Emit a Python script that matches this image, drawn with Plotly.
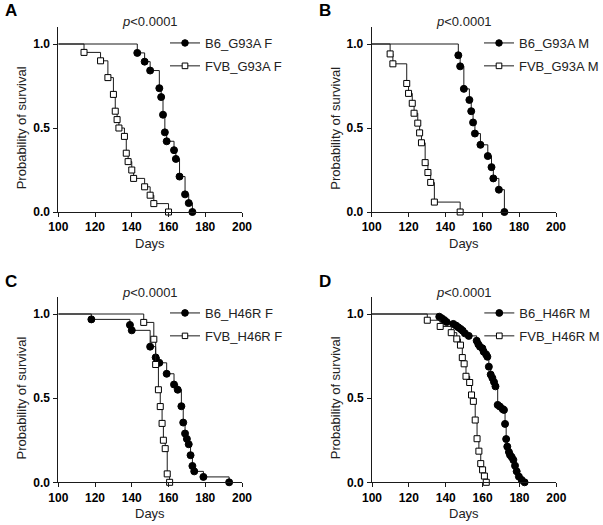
import plotly.graph_objects as go

# ---------------- data ----------------
# Panel A: G93A females
a_b6_days = [143, 147, 150, 155, 156, 157, 158, 159, 163, 164, 166, 169, 171, 173]
a_b6_surv = [0.947, 0.895, 0.842, 0.737, 0.684, 0.579, 0.474, 0.421, 0.368, 0.316, 0.211, 0.105, 0.053, 0.0]
a_fvb_days = [114, 123, 127, 130, 131, 132, 133, 136, 137, 138, 140, 141, 147, 150, 152, 160]
a_fvb_surv = [0.95, 0.90, 0.80, 0.70, 0.60, 0.55, 0.50, 0.45, 0.35, 0.30, 0.25, 0.20, 0.15, 0.10, 0.05, 0.0]

# Panel B: G93A males
b_b6_days = [147, 148, 150, 153, 154, 155, 156, 159, 163, 165, 166, 169, 172]
b_b6_surv = [0.933, 0.867, 0.733, 0.667, 0.600, 0.533, 0.467, 0.400, 0.333, 0.267, 0.200, 0.133, 0.0]
b_fvb_days = [110, 111.5, 119, 120, 122, 123, 125, 126, 127, 129, 130.5, 132, 134, 148]
b_fvb_surv = [0.941, 0.882, 0.765, 0.706, 0.647, 0.588, 0.529, 0.471, 0.412, 0.294, 0.235, 0.176, 0.059, 0.0]

# Panel C: H46R females
c_b6_days = [118, 139, 140, 150, 153, 155, 159, 163, 165, 167, 168, 169, 170, 171, 172, 173, 174, 179, 193]
c_b6_surv = [0.968, 0.935, 0.903, 0.806, 0.742, 0.710, 0.645, 0.581, 0.550, 0.452, 0.355, 0.290, 0.258, 0.226, 0.161, 0.097, 0.065, 0.032, 0.0]
c_fvb_days = [146.5, 152, 153, 154.5, 155.5, 156.5, 157.2, 158.2, 159.3, 160.6]
c_fvb_surv = [0.95, 0.85, 0.70, 0.55, 0.45, 0.35, 0.25, 0.20, 0.05, 0.0]

# Panel D: H46R males
d_b6_days = [136.5, 137.8, 139.2, 140.5, 144.1, 145.6, 146.8, 148.1, 149.2, 150.4, 152.5,
             156.8, 157.7, 158.6, 159.9, 160.6, 161.9, 162.6, 163.4, 164.4, 165.3, 166.2, 167.0,
             168.2, 169.4, 170.9, 171.6, 172.2, 172.8, 173.4, 174.3, 174.9, 175.8, 176.7,
             177.6, 178.5, 179.7, 181.2, 182.8]
d_b6_surv = [0.984, 0.975, 0.964, 0.952, 0.941, 0.931, 0.921, 0.911, 0.901, 0.885, 0.870,
             0.841, 0.820, 0.806, 0.796, 0.776, 0.760, 0.746, 0.687, 0.640, 0.620, 0.596, 0.570,
             0.460, 0.450, 0.435, 0.430, 0.347, 0.257, 0.212, 0.180, 0.162, 0.150, 0.133,
             0.099, 0.065, 0.034, 0.014, 0.0]
d_fvb_days = [130, 137, 143, 146, 148, 149, 150, 151, 153, 154, 155, 156, 157, 158, 159, 160, 161, 162]
d_fvb_surv = [0.963, 0.926, 0.889, 0.852, 0.815, 0.741, 0.704, 0.630, 0.593, 0.519, 0.481,
              0.370, 0.259, 0.185, 0.111, 0.074, 0.037, 0.0]

panel_letters = ["A", "B", "C", "D"]
b6_names = ["B6_G93A F", "B6_G93A M", "B6_H46R F", "B6_H46R M"]
fvb_names = ["FVB_G93A F", "FVB_G93A M", "FVB_H46R F", "FVB_H46R M"]
p_text = "<i>p</i>&lt;0.0001"
x_ticks = [100, 120, 140, 160, 180, 200]
y_ticks = [0.0, 0.5, 1.0]
y_ticklabels = ["0.0", "0.5", "1.0"]

panels = [
    (a_b6_days, a_b6_surv, a_fvb_days, a_fvb_surv),
    (b_b6_days, b_b6_surv, b_fvb_days, b_fvb_surv),
    (c_b6_days, c_b6_surv, c_fvb_days, c_fvb_surv),
    (d_b6_days, d_b6_surv, d_fvb_days, d_fvb_surv),
]

# ---------------- layout geometry ----------------
W, H = 603, 525
FONT = "Liberation Sans, Arial, Helvetica, sans-serif"
TXT = "#222222"
LINE = "#1a1a1a"

# pixel positions: (x of 100, x of 200, y of 0.0, y of 1.0)
geo = [
    (58.3, 242.0, 212.0, 44.0),
    (371.7, 556.0, 212.0, 44.0),
    (58.3, 242.0, 482.3, 314.0),
    (372.0, 556.3, 482.3, 314.0),
]

def px(x):
    return x / W

def py(y):
    return 1 - y / H

fig = go.Figure()
annotations = []
layout = dict(
    width=W, height=H, margin=dict(l=0, r=0, t=0, b=0, autoexpand=False),
    paper_bgcolor="white", plot_bgcolor="white",
    font=dict(family=FONT, color=TXT), showlegend=True,
)

for i, (b6d, b6s, fvd, fvs) in enumerate(panels):
    x0, x1, y0, y1 = geo[i]
    ytop = y0 - (y0 - y1) * 1.1
    sfx = "" if i == 0 else str(i + 1)
    xa, ya = "x" + sfx, "y" + sfx
    leg = "legend" + sfx

    layout["xaxis" + sfx] = dict(
        domain=[px(x0), px(x1)], range=[100, 200], anchor=ya, automargin=False,
        showgrid=False, zeroline=False, showline=True, linecolor=LINE, linewidth=1,
        ticks="outside", ticklen=4, tickwidth=1, tickcolor=LINE,
        tickvals=x_ticks, ticktext=[str(t) for t in x_ticks],
        tickfont=dict(size=12, family=FONT, color="black", weight="bold"),
        fixedrange=True,
    )
    layout["yaxis" + sfx] = dict(
        domain=[py(y0), py(ytop)], range=[0, 1.1], anchor=xa, automargin=False,
        showgrid=False, zeroline=False, showline=True, linecolor=LINE, linewidth=1,
        ticks="outside", ticklen=4, tickwidth=1, tickcolor=LINE,
        tickvals=y_ticks, ticktext=y_ticklabels, ticklabelstandoff=1,
        tickfont=dict(size=12, family=FONT, color="black", weight="bold"),
        fixedrange=True,
    )

    for j, (days, surv, name, sym, fill, msz) in enumerate([
        (b6d, b6s, b6_names[i], "circle", "black", 7),
        (fvd, fvs, fvb_names[i], "square", "white", 6),
    ]):
        xs = [100] + list(days)
        ys = [1.0] + list(surv)
        sizes = [0] + [msz] * len(days)
        fig.add_trace(go.Scatter(
            x=xs, y=ys, mode="lines+markers", name=name,
            legendgroup="g%d_%d" % (i, j),
            line=dict(shape="hv", color=LINE, width=1),
            marker=dict(symbol=sym, size=sizes, color=fill, opacity=1,
                        line=dict(color="black", width=1)),
            xaxis=xa, yaxis=ya, legend=leg, cliponaxis=False,
        ))

    # legend
    layout[leg] = dict(
        x=px(x1 - 77), y=py(y1 - 16), xanchor="left", yanchor="top",
        bgcolor="rgba(0,0,0,0)", font=dict(size=13, family=FONT, color=TXT),
        itemwidth=30, tracegroupgap=3,
    )

    # panel letter
    annotations.append(dict(
        text="<b>%s</b>" % panel_letters[i], xref="paper", yref="paper",
        x=px(x0 - 55), y=py(y1 - 33), xanchor="left", yanchor="middle",
        showarrow=False, font=dict(size=17, family=FONT, color="black"),
    ))
    # p value
    annotations.append(dict(
        text=p_text, xref="paper", yref="paper",
        x=px((x0 + x1) / 2), y=py(y1 - 22), xanchor="center", yanchor="middle",
        showarrow=False, font=dict(size=13, family=FONT, color=TXT),
    ))
    # axis titles
    annotations.append(dict(
        text="Days", xref="paper", yref="paper",
        x=px((x0 + x1) / 2), y=py(y0 + 31.5), xanchor="center", yanchor="middle",
        showarrow=False, font=dict(size=13, family=FONT, color=TXT),
    ))
    annotations.append(dict(
        text="Probability of survival", xref="paper", yref="paper",
        x=px(x0 - 37), y=py((y0 + y1) / 2), xanchor="center", yanchor="middle",
        textangle=-90, showarrow=False, font=dict(size=13, family=FONT, color=TXT),
    ))

layout["annotations"] = annotations
fig.update_layout(**layout)
fig.write_html(
    "out.html",
    config={"displayModeBar": False, "staticPlot": True},
    post_script="document.body.style.margin='0';document.body.style.overflow='hidden';",
)
